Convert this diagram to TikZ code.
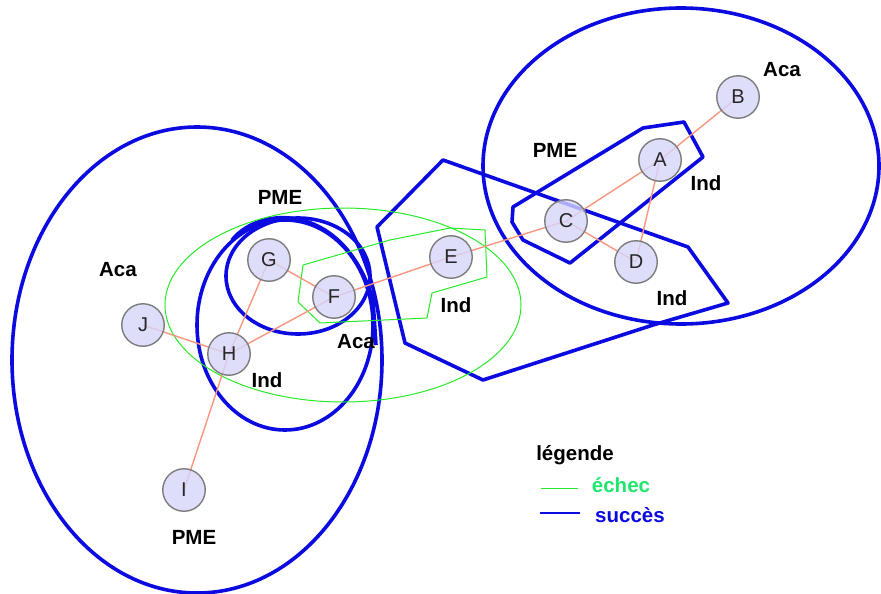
\documentclass[tikz,border=0pt]{standalone}
\usepackage{fontspec}
\setmainfont{Liberation Sans}
\definecolor{grpblue}{RGB}{10,10,225}
\definecolor{grpgreen}{RGB}{40,235,40}
\definecolor{edgecol}{RGB}{250,150,125}
\definecolor{nodefill}{RGB}{214,214,250}
\definecolor{nodeline}{RGB}{125,125,125}
\definecolor{txtgreen}{RGB}{30,230,110}
\begin{document}
\begin{tikzpicture}[x=1pt,y=-1pt,
  vert/.style={circle,draw=nodeline,line width=1.4pt,fill=nodefill,fill opacity=0.8,text opacity=1,draw opacity=1,minimum size=42.5pt,inner sep=0pt,font=\fontsize{20}{22}\selectfont,text=black!85},
  tag/.style={font=\bfseries\fontsize{20.5}{23}\selectfont,inner sep=0pt},
  link/.style={edgecol,line width=1.4pt},
  ok/.style={grpblue,line width=3.6pt,line join=round},
  ko/.style={grpgreen,line width=1pt,line join=round}]
\useasboundingbox (0,0) rectangle (881,594);
\fill[white] (0,0) rectangle (881,594);
% success groups (blue)
\draw[ok] (681,166) ellipse [x radius=198, y radius=158];
\draw[ok] (197,360) ellipse [x radius=185, y radius=233];
\draw[ok] (285,325) ellipse [x radius=88, y radius=105];
\draw[ok] (298,276) ellipse [x radius=72, y radius=58];
\draw[ok] (232,240) .. controls (262,203) and (345,205) .. (373,300) -- (376,345);
\draw[ok] (443,160) -- (688,247) -- (728,303) -- (653,325) -- (483,380) -- (405,343) -- (377,227) -- cycle;
\draw[ok] (643,128) -- (684,122) -- (703,157) -- (570,263) -- (523,240) -- (512,222) -- (513,207) -- cycle;
% failure groups (green)
\draw[ko] (343,305) ellipse [x radius=178, y radius=97];
\draw[ko] (303,265) -- (390,240) -- (450,228) -- (485,230) -- (487,277) -- (432,293) -- (427,318) -- (320,323) -- (298,302) -- cycle;
% vertex positions
\coordinate (pB) at (738,97);
\coordinate (pA) at (660,160);
\coordinate (pC) at (566,221);
\coordinate (pD) at (636,262);
\coordinate (pE) at (451,257);
\coordinate (pF) at (334,297);
\coordinate (pG) at (269,260);
\coordinate (pH) at (229,354);
\coordinate (pJ) at (143,325);
\coordinate (pI) at (184,490);
% edges (under the translucent vertices)
\draw[link] (pB) -- (pA);
\draw[link] (pA) -- (pC);
\draw[link] (pA) -- (pD);
\draw[link] (pC) -- (pD);
\draw[link] (pC) -- (pE);
\draw[link] (pE) -- (pF);
\draw[link] (pF) -- (pG);
\draw[link] (pF) -- (pH);
\draw[link] (pG) -- (pH);
\draw[link] (pH) -- (pJ);
\draw[link] (pH) -- (pI);
% vertices
\node[vert] (B) at (pB) {B};
\node[vert] (A) at (pA) {A};
\node[vert] (C) at (pC) {C};
\node[vert] (D) at (pD) {D};
\node[vert] (E) at (pE) {E};
\node[vert] (F) at (pF) {F};
\node[vert] (G) at (pG) {G};
\node[vert] (H) at (pH) {H};
\node[vert] (J) at (pJ) {J};
\node[vert] (I) at (pI) {I};
% attribute labels
\node[tag] (lB) at (782,70) {Aca};
\node[tag] (lC) at (555,150) {PME};
\node[tag] (lA) at (706,183) {Ind};
\node[tag] (lD) at (672,298) {Ind};
\node[tag] (lE) at (456,305) {Ind};
\node[tag] (lF) at (356,342) {Aca};
\node[tag] (lG) at (280,197) {PME};
\node[tag] (lH) at (267,380) {Ind};
\node[tag] (lJ) at (118,270) {Aca};
\node[tag] (lI) at (194,537) {PME};
% legend
\node[tag] (leg) at (575,455) {légende};
\coordinate (g1) at (541,488);
\coordinate (g2) at (578,488);
\draw[ko] (g1) -- (g2);
\node[tag,text=txtgreen] (lko) at (621,485) {échec};
\coordinate (b1) at (540,513);
\coordinate (b2) at (580,513);
\draw[ok,line width=2.8pt] (b1) -- (b2);
\node[tag,text=grpblue] (lok) at (630,515) {succès};
\end{tikzpicture}
\end{document}
